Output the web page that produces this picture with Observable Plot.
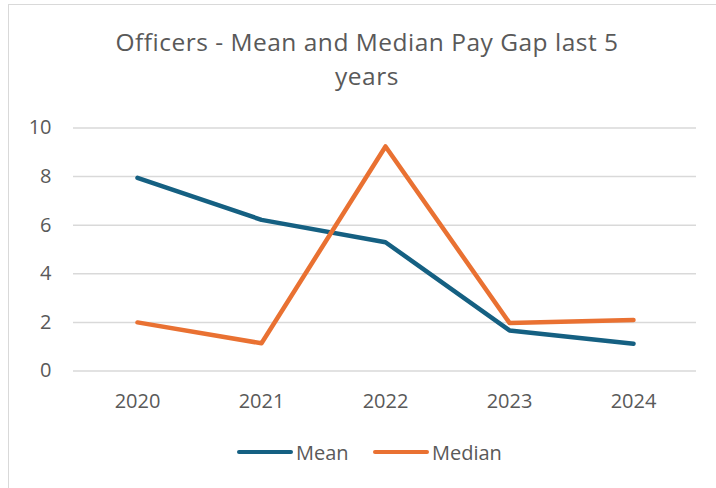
<!DOCTYPE html>
<html>
<head>
<meta charset="utf-8">
<script src="https://cdn.jsdelivr.net/npm/d3@7"></script>
<script src="https://cdn.jsdelivr.net/npm/@observablehq/plot@0.6"></script>
<style>
  html, body { margin: 0; padding: 0; background: #fff; }
  #frame { position: relative; width: 716px; height: 488px; overflow: hidden; font-family: "Open Sans", sans-serif; }
  #border { position: absolute; left: 8px; top: 4px; width: 720px; height: 500px; border: 1.5px solid #d9d9d9; box-sizing: border-box; }
  #title { position: absolute; left: -8px; width: 750px; top: 25px; text-align: center; font-size: 24.5px; letter-spacing: 0.5px; line-height: 34px; color: #595959; }
  #chart { position: absolute; left: 0; top: 105px; }
  #legend { position: absolute; top: 438px; left: 0; width: 716px; height: 28px; font-size: 20px; color: #595959; }
  .item { position: absolute; top: 0; display: flex; align-items: center; height: 28px; }
  .swatch { width: 56px; height: 4.5px; border-radius: 2px; margin-right: 3px; }
</style>
</head>
<body>
<div id="frame">
  <div id="border"></div>
  <div id="title">Officers - Mean and Median Pay Gap last 5<br>years</div>
  <div id="chart"></div>
  <div id="legend"></div>
</div>
<script>
const years = ["2020", "2021", "2022", "2023", "2024"];
const meanValues = [7.95, 6.22, 5.3, 1.67, 1.12];
const medianValues = [2.0, 1.14, 9.24, 1.98, 2.1];
const yTicks = [0, 2, 4, 6, 8, 10];
const seriesNames = ["Mean", "Median"];
const seriesColors = ["#156082", "#E97132"];

const data = [];
years.forEach((y, i) => {
  data.push({year: y, value: meanValues[i], series: "Mean"});
  data.push({year: y, value: medianValues[i], series: "Median"});
});

const chart = Plot.plot({
  width: 716,
  height: 330,
  marginLeft: 73,
  marginRight: 20,
  marginTop: 22.5,
  marginBottom: 64.5,
  style: {fontFamily: "Open Sans, sans-serif", fontSize: "20px", color: "#595959", background: "transparent"},
  x: {type: "point", domain: years, padding: 0.5, label: null, tickSize: 0, tickPadding: 23},
  y: {domain: [0, 10], ticks: yTicks, label: null, tickSize: 0, tickPadding: 22},
  color: {domain: seriesNames, range: seriesColors},
  marks: [
    Plot.ruleY(yTicks, {stroke: "#d9d9d9", strokeWidth: 1.5}),
    Plot.line(data, {x: "year", y: "value", z: "series", stroke: "series", strokeWidth: 4.5, strokeLinejoin: "round", strokeLinecap: "round"})
  ]
});
document.getElementById("chart").appendChild(chart);

const legend = document.getElementById("legend");
const positions = [237, 373];
seriesNames.forEach((name, i) => {
  const item = document.createElement("div");
  item.className = "item";
  item.style.left = positions[i] + "px";
  const sw = document.createElement("div");
  sw.className = "swatch";
  sw.style.background = seriesColors[i];
  const label = document.createElement("span");
  label.textContent = name;
  item.appendChild(sw);
  item.appendChild(label);
  legend.appendChild(item);
});
</script>
</body>
</html>
